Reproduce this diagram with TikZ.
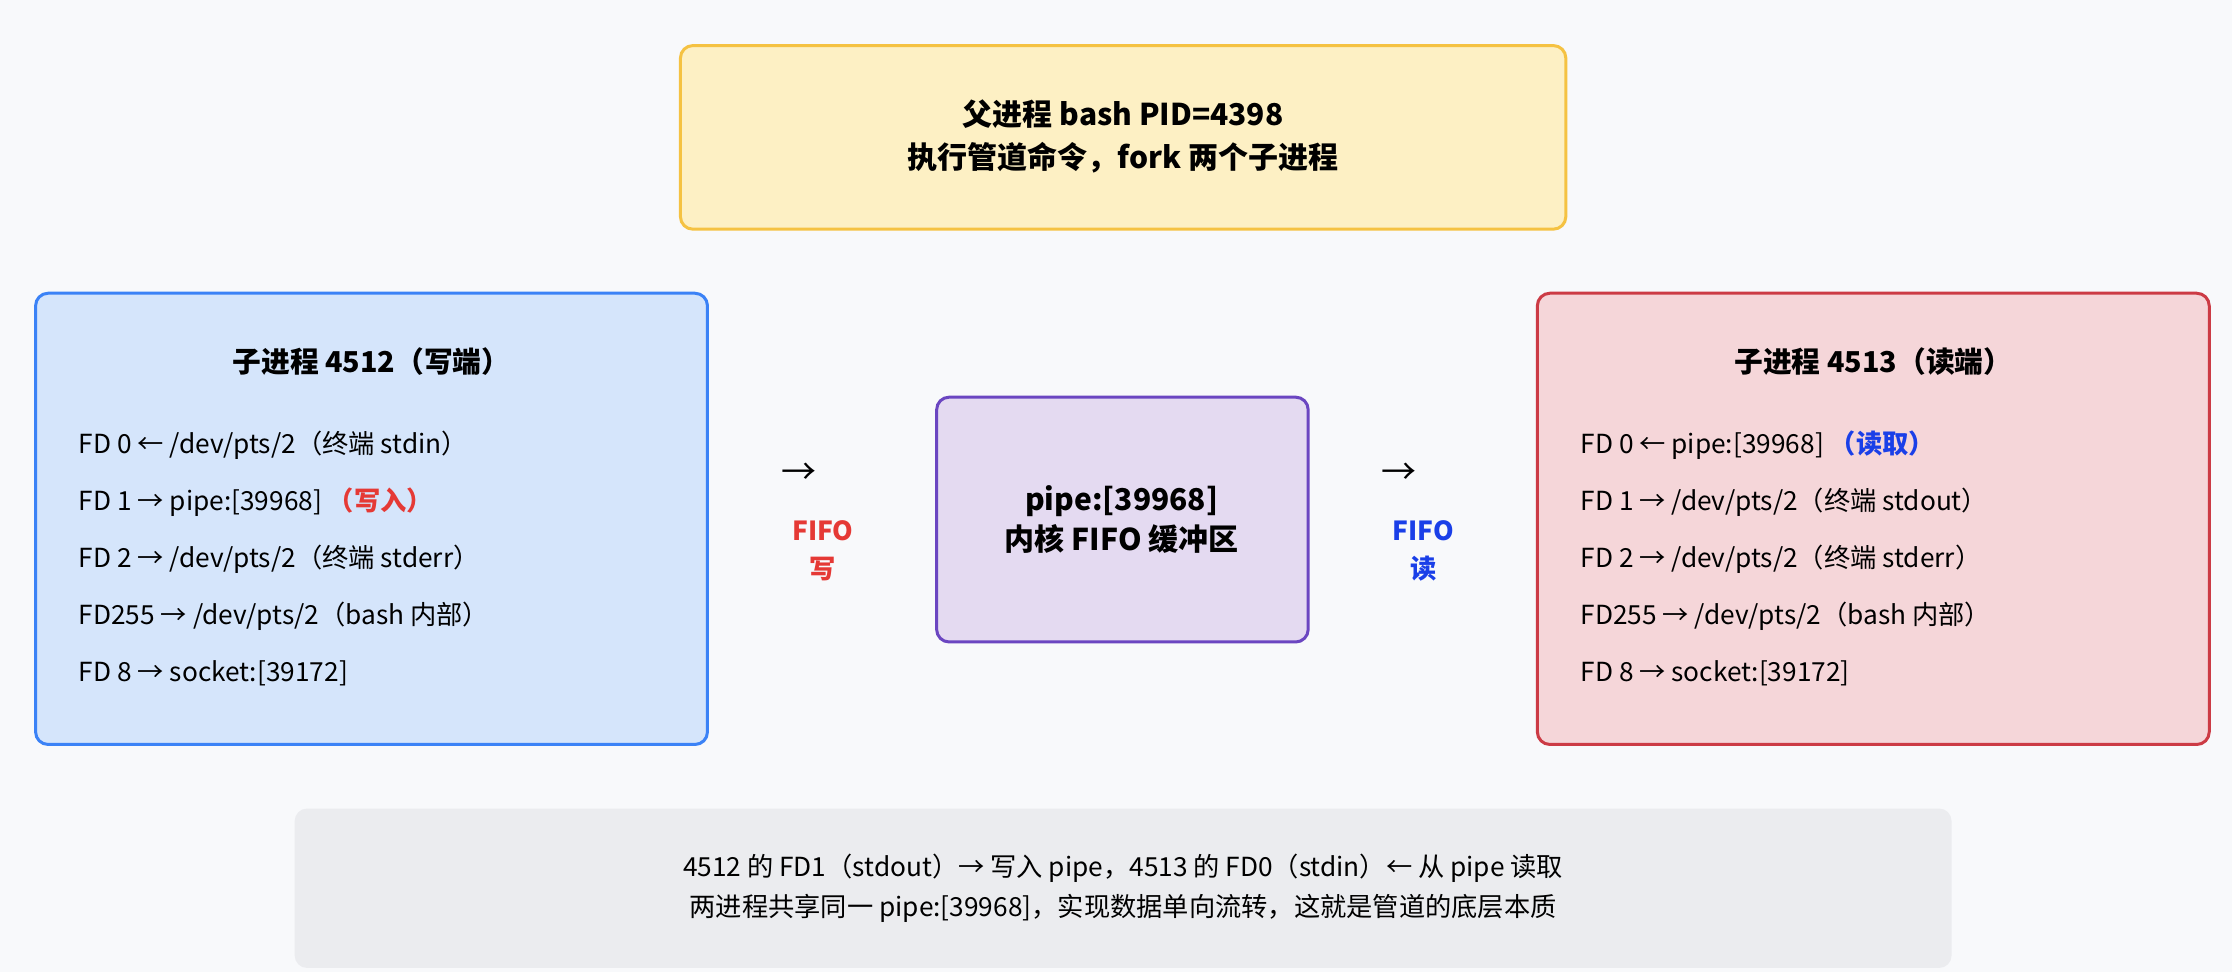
\documentclass[tikz,border=0pt]{standalone}
\usepackage{fontspec}
\setmainfont{Noto Sans CJK SC}
\usepackage{tikz}
\usetikzlibrary{positioning}
\definecolor{colorBg}{HTML}{F8F9FB}
\definecolor{colorTopF}{HTML}{FDF0C4}
\definecolor{colorTopD}{HTML}{F5C242}
\definecolor{colorWrF}{HTML}{D5E5FB}
\definecolor{colorWrD}{HTML}{3B82F6}
\definecolor{colorRdF}{HTML}{F5D6D9}
\definecolor{colorRdD}{HTML}{CC3B45}
\definecolor{colorPiF}{HTML}{E4DAF1}
\definecolor{colorPiD}{HTML}{6B46C1}
\definecolor{colorNote}{HTML}{EBECEF}
\definecolor{colorRed}{HTML}{E53935}
\definecolor{colorBlue}{HTML}{1A3FE8}
\tikzset{
  box/.style={draw, line width=1.2pt, rounded corners=5pt},
  fd/.style={anchor=west, font=\fontsize{10.5}{12}\selectfont, inner sep=0pt},
  head/.style={font=\fontsize{11.5}{14}\selectfont\bfseries, align=center},
  tag/.style={font=\fontsize{10.5}{12}\selectfont\bfseries, align=center}
}
\begin{document}
\begin{tikzpicture}[x=0.02cm, y=-0.02cm]
        \fill[colorBg] (0,0) rectangle (1568,683);
        \useasboundingbox (0,0) rectangle (1568,683);
        % parent
        \draw[box, fill=colorTopF, draw=colorTopD] (478,32) rectangle (1100,161);
        \node[head, font=\fontsize{12}{17}\selectfont\bfseries] (parent) at (789,96) {父进程 bash PID=4398\\执行管道命令，fork 两个子进程};
        % writer
        \draw[box, fill=colorWrF, draw=colorWrD] (25,206) rectangle (497,523);
        \node[head] (wtitle) at (261,254) {子进程 4512（写端）};
        \node[fd] (w0) at (55,313) {FD 0 ← /dev/pts/2（终端 stdin）};
        \node[fd] (w1) at (55,353) {FD 1 → pipe:[39968] \textcolor{colorRed}{\bfseries（写入）}};
        \node[fd] (w2) at (55,393) {FD 2 → /dev/pts/2（终端 stderr）};
        \node[fd] (w3) at (55,433) {FD255 → /dev/pts/2（bash 内部）};
        \node[fd] (w4) at (55,473) {FD 8 → socket:[39172]};
        % pipe
        \draw[box, fill=colorPiF, draw=colorPiD] (658,279) rectangle (919,451);
        \node[head, font=\fontsize{12}{16}\selectfont\bfseries] (pipe) at (788,365) {pipe:[39968]\\内核 FIFO 缓冲区};
        % reader
        \draw[box, fill=colorRdF, draw=colorRdD] (1080,206) rectangle (1552,523);
        \node[head] (rtitle) at (1316,254) {子进程 4513（读端）};
        \node[fd] (r0) at (1110,313) {FD 0 ← pipe:[39968] \textcolor{colorBlue}{\bfseries（读取）}};
        \node[fd] (r1) at (1110,353) {FD 1 → /dev/pts/2（终端 stdout）};
        \node[fd] (r2) at (1110,393) {FD 2 → /dev/pts/2（终端 stderr）};
        \node[fd] (r3) at (1110,433) {FD255 → /dev/pts/2（bash 内部）};
        \node[fd] (r4) at (1110,473) {FD 8 → socket:[39172]};
        % flow marks
        \node[font=\fontsize{14}{14}\selectfont] (warr) at (561,333) {→};
        \node[tag, text=colorRed, font=\fontsize{10.5}{15}\selectfont\bfseries] (wtag) at (578,387) {FIFO\\写};
        \node[font=\fontsize{14}{14}\selectfont] (rarr) at (983,333) {→};
        \node[tag, text=colorBlue, font=\fontsize{10.5}{15}\selectfont\bfseries] (rtag) at (1000,387) {FIFO\\读};
        % note
        \fill[colorNote, rounded corners=5pt] (207,568) rectangle (1371,680);
        \node[align=center, font=\fontsize{10.5}{16}\selectfont] (note) at (789,624) {4512 的 FD1（stdout）→ 写入 pipe，4513 的 FD0（stdin）← 从 pipe 读取\\两进程共享同一 pipe:[39968]，实现数据单向流转，这就是管道的底层本质};
    \end{tikzpicture}
\end{document}
